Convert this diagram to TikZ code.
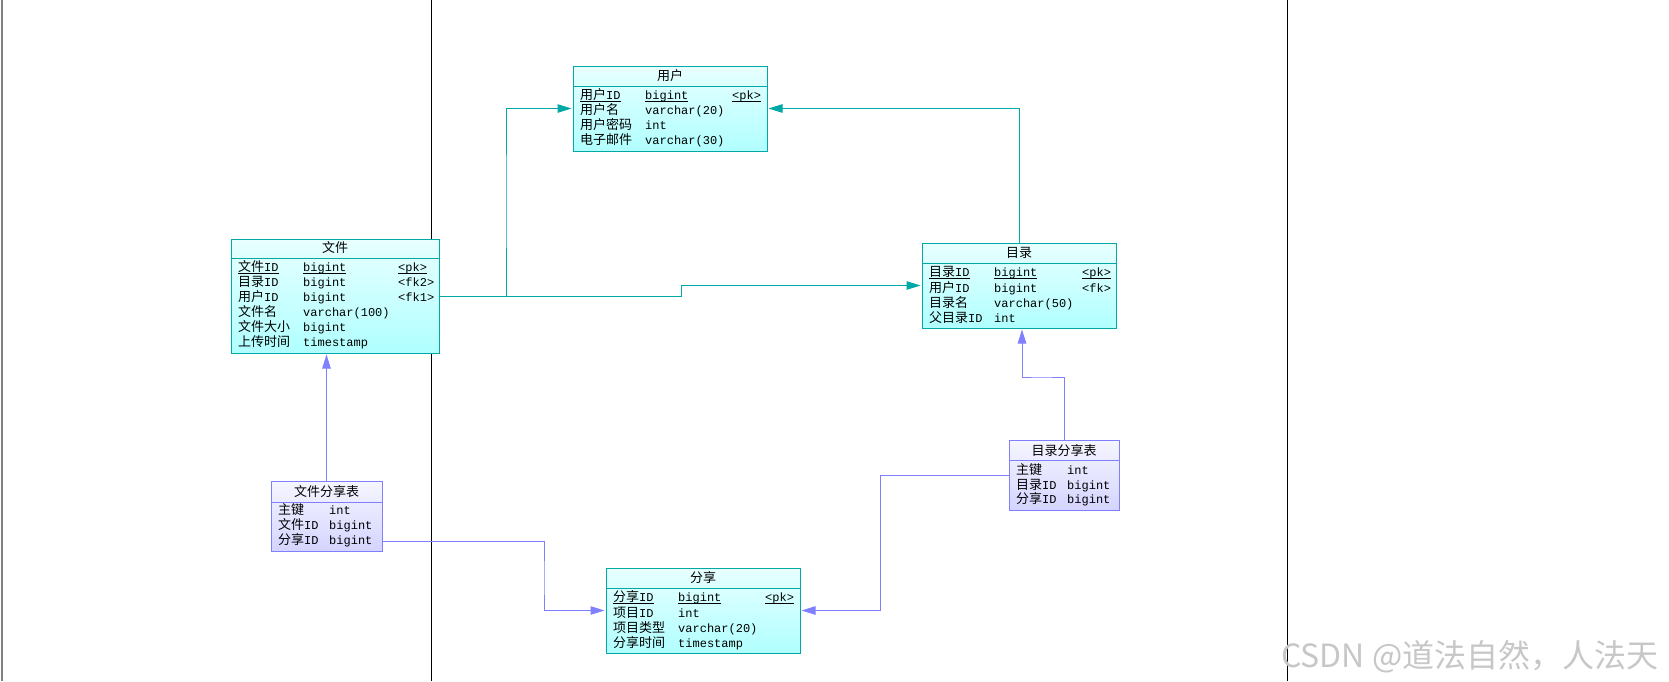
\documentclass[tikz,border=0pt]{standalone}
\usepackage{fontspec}
\setmainfont{Liberation Mono}
\newfontfamily\cjkf{Noto Sans CJK SC}
\usetikzlibrary{arrows.meta}
\definecolor{tealc}{HTML}{00A8A8}
\definecolor{purc}{HTML}{8080FF}
\definecolor{cyantop}{HTML}{E8FFFF}
\definecolor{cyanbot}{HTML}{B0FFFF}
\definecolor{lavtop}{HTML}{F6F6FF}
\definecolor{lavbot}{HTML}{D4D4FF}
\newcommand\zh[1]{{\cjkf\fontsize{13}{13}\selectfont #1}}
\newcommand\ulx[1]{\setbox0\hbox{#1}\rlap{\rule[-2.5pt]{\wd0}{0.8pt}}\box0}
\tikzset{
  tblc/.style={rectangle, draw=tealc, line width=1pt, top color=cyantop, bottom color=cyanbot, inner sep=0pt},
  tblp/.style={rectangle, draw=purc, line width=1pt, top color=lavtop, bottom color=lavbot, inner sep=0pt},
  sepc/.style={draw=tealc, line width=1pt},
  sepp/.style={draw=purc, line width=1pt},
  cell/.style={anchor=base west, inner sep=0pt, font=\fontsize{12}{13}\selectfont},
  ttl/.style={anchor=base, inner sep=0pt},
  lnkc/.style={draw=tealc, line width=1pt, line join=miter, -{Triangle[length=14pt,width=8.5pt]}, shorten >=1pt},
  lnkp/.style={draw=purc, line width=1pt, line join=miter, -{Triangle[length=14pt,width=8.5pt]}, shorten >=1pt},
}
\begin{document}
\begin{tikzpicture}[x=1pt,y=-1pt]
\useasboundingbox (0,0) rectangle (1669,681);
\fill[white] (0,0) rectangle (1669,681);
% frame lines
\draw[gray, line width=2pt] (2,0) -- (2,681);
\draw[black, line width=1pt] (431,0) -- (431,681);
\draw[black, line width=1pt] (1287,0) -- (1287,681);

% ---------- 用户 ----------
\node[tblc, minimum width=194pt, minimum height=85pt] (U) at (670,108.5) {};
\draw[sepc] (573,86) -- (767,86);
\node[ttl] (Ut) at (670,80) {\zh{用户}};
\node[cell] (U1a) at (580,99.5) {\ulx{\zh{用户}ID}};
\node[cell] (U1b) at (645,99.5) {\ulx{bigint}};
\node[cell] (U1c) at (732,99.5) {\ulx{<pk>}};
\node[cell] (U2a) at (580,114.5) {\zh{用户名}};
\node[cell] (U2b) at (645,114.5) {varchar(20)};
\node[cell] (U3a) at (580,129.5) {\zh{用户密码}};
\node[cell] (U3b) at (645,129.5) {int};
\node[cell] (U4a) at (580,144.5) {\zh{电子邮件}};
\node[cell] (U4b) at (645,144.5) {varchar(30)};

% ---------- 文件 ----------
\node[tblc, minimum width=208pt, minimum height=114pt] (F) at (335,296) {};
\draw[sepc] (231,258) -- (439,258);
\node[ttl] (Ft) at (335,252.5) {\zh{文件}};
\node[cell] (F1a) at (238,271.5) {\ulx{\zh{文件}ID}};
\node[cell] (F1b) at (303,271.5) {\ulx{bigint}};
\node[cell] (F1c) at (398,271.5) {\ulx{<pk>}};
\node[cell] (F2a) at (238,286.5) {\zh{目录}ID};
\node[cell] (F2b) at (303,286.5) {bigint};
\node[cell] (F2c) at (398,286.5) {<fk2>};
\node[cell] (F3a) at (238,301.5) {\zh{用户}ID};
\node[cell] (F3b) at (303,301.5) {bigint};
\node[cell] (F3c) at (398,301.5) {<fk1>};
\node[cell] (F4a) at (238,316.5) {\zh{文件名}};
\node[cell] (F4b) at (303,316.5) {varchar(100)};
\node[cell] (F5a) at (238,331.3) {\zh{文件大小}};
\node[cell] (F5b) at (303,331.3) {bigint};
\node[cell] (F6a) at (238,346) {\zh{上传时间}};
\node[cell] (F6b) at (303,346) {timestamp};

% ---------- 目录 ----------
\node[tblc, minimum width=194pt, minimum height=85pt] (D) at (1019,285.5) {};
\draw[sepc] (922,263) -- (1116,263);
\node[ttl] (Dt) at (1019,257) {\zh{目录}};
\node[cell] (D1a) at (929,276.5) {\ulx{\zh{目录}ID}};
\node[cell] (D1b) at (994,276.5) {\ulx{bigint}};
\node[cell] (D1c) at (1082,276.5) {\ulx{<pk>}};
\node[cell] (D2a) at (929,292) {\zh{用户}ID};
\node[cell] (D2b) at (994,292) {bigint};
\node[cell] (D2c) at (1082,292) {<fk>};
\node[cell] (D3a) at (929,307) {\zh{目录名}};
\node[cell] (D3b) at (994,307) {varchar(50)};
\node[cell] (D4a) at (929,322) {\zh{父目录}ID};
\node[cell] (D4b) at (994,322) {int};

% ---------- 文件分享表 ----------
\node[tblp, minimum width=111pt, minimum height=70pt] (FS) at (326.5,516) {};
\draw[sepp] (271,502) -- (382,502);
\node[ttl] (FSt) at (326.5,496) {\zh{文件分享表}};
\node[cell] (FS1a) at (278,514) {\zh{主键}};
\node[cell] (FS1b) at (329,514) {int};
\node[cell] (FS2a) at (278,529.5) {\zh{文件}ID};
\node[cell] (FS2b) at (329,529.5) {bigint};
\node[cell] (FS3a) at (278,544) {\zh{分享}ID};
\node[cell] (FS3b) at (329,544) {bigint};

% ---------- 目录分享表 ----------
\node[tblp, minimum width=110pt, minimum height=70pt] (DS) at (1064,475) {};
\draw[sepp] (1009,460) -- (1119,460);
\node[ttl] (DSt) at (1064,455) {\zh{目录分享表}};
\node[cell] (DS1a) at (1016,474) {\zh{主键}};
\node[cell] (DS1b) at (1067,474) {int};
\node[cell] (DS2a) at (1016,489.5) {\zh{目录}ID};
\node[cell] (DS2b) at (1067,489.5) {bigint};
\node[cell] (DS3a) at (1016,503.5) {\zh{分享}ID};
\node[cell] (DS3b) at (1067,503.5) {bigint};

% ---------- 分享 ----------
\node[tblc, minimum width=194pt, minimum height=85pt] (S) at (703,610.5) {};
\draw[sepc] (606,588) -- (800,588);
\node[ttl] (St) at (703,582) {\zh{分享}};
\node[cell] (S1a) at (613,601.5) {\ulx{\zh{分享}ID}};
\node[cell] (S1b) at (678,601.5) {\ulx{bigint}};
\node[cell] (S1c) at (765,601.5) {\ulx{<pk>}};
\node[cell] (S2a) at (613,617) {\zh{项目}ID};
\node[cell] (S2b) at (678,617) {int};
\node[cell] (S3a) at (613,632) {\zh{项目类型}};
\node[cell] (S3b) at (678,632) {varchar(20)};
\node[cell] (S4a) at (613,647) {\zh{分享时间}};
\node[cell] (S4b) at (678,647) {timestamp};

% ---------- connectors ----------
\coordinate (k1) at (506,200);
\coordinate (k2) at (681,290);
\coordinate (k5) at (544,580);
\coordinate (k6) at (1040,377);
\coordinate (k7) at (880,540);
\coordinate (fsr) at ([yshift=-25pt]FS.east);
\coordinate (dsb) at ([xshift=3pt]D.south);

\draw[lnkc] (F.east) -| (k1) |- (U.west);
\draw[lnkc] (F.east) -| (k2) |- (D.west);
\draw[lnkc] (D.north) |- (U.east);
\draw[lnkp] (FS.north) -- (FS.north |- F.south);
\draw[lnkp] (fsr) -| (k5) |- (S.west);
\draw[lnkp] (DS.north) |- (k6) -| (dsb);
\draw[lnkp] (DS.west) -| (k7) |- (S.east);

% watermark
\node[anchor=base west, inner sep=0pt, text=black!22, font=\cjkf\fontsize{32}{32}\selectfont] (wm) at (1281,667) {CSDN @道法自然，人法天};
\end{tikzpicture}
\end{document}
